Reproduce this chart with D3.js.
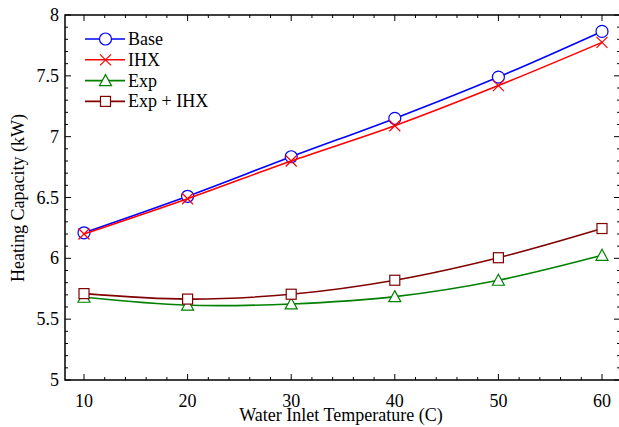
<!DOCTYPE html>
<html>
<head>
<meta charset="utf-8">
<script src="https://cdn.jsdelivr.net/npm/d3@7"></script>
<style>
  body { margin: 0; background: #fff; }
</style>
</head>
<body>
<svg id="chart" width="619" height="427" font-family="'Liberation Serif', 'DejaVu Serif'"></svg>
<script>
const temps = [10, 20, 30, 40, 50, 60];
const baseCap = [6.21, 6.51, 6.835, 7.15, 7.49, 7.865];
const ihxCap = [6.2, 6.49, 6.8, 7.09, 7.42, 7.775];
const expCap = [5.68, 5.615, 5.625, 5.685, 5.82, 6.025];
const expIhxCap = [5.71, 5.665, 5.705, 5.82, 6.005, 6.245];
const xTicks = [10, 20, 30, 40, 50, 60];
const yTicks = [5, 5.5, 6, 6.5, 7, 7.5, 8];

const series = [
  {name: "Base", values: baseCap, color: "#0000ff", marker: "circle"},
  {name: "IHX", values: ihxCap, color: "#ff0000", marker: "cross"},
  {name: "Exp", values: expCap, color: "#008000", marker: "triangle"},
  {name: "Exp + IHX", values: expIhxCap, color: "#800000", marker: "square"}
];

const plotLeft = 65, plotRight = 620, plotTop = 15, plotBottom = 380;
const svg = d3.select("#chart");

const x = d3.scaleLinear().domain([10, 60]).range([84, 602]);
const y = d3.scaleLinear().domain([5, 8]).range([plotBottom, plotTop]);

// frame
svg.append("path")
  .attr("d", `M${plotLeft},${plotTop}H${plotRight}V${plotBottom}H${plotLeft}Z`)
  .attr("fill", "none").attr("stroke", "#000").attr("stroke-width", 1.5);

// inward ticks on all four sides
const xMinor = d3.range(8, 63, 2).filter(v => x(v) > plotLeft + 1 && x(v) < plotRight - 1);
const yMinor = d3.range(50, 81, 1).map(v => v / 10);
const tickG = svg.append("g").attr("stroke", "#000").attr("stroke-width", 1);
xMinor.forEach(v => {
  const len = xTicks.includes(v) ? 6 : 3;
  tickG.append("line").attr("x1", x(v)).attr("x2", x(v)).attr("y1", plotBottom).attr("y2", plotBottom - len);
  tickG.append("line").attr("x1", x(v)).attr("x2", x(v)).attr("y1", plotTop).attr("y2", plotTop + len);
});
yMinor.forEach(v => {
  const len = Math.abs(v * 2 - Math.round(v * 2)) < 1e-6 ? 6 : 3;
  tickG.append("line").attr("x1", plotLeft).attr("x2", plotLeft + len).attr("y1", y(v)).attr("y2", y(v));
  tickG.append("line").attr("x1", plotRight).attr("x2", plotRight - len).attr("y1", y(v)).attr("y2", y(v));
});

// tick labels
svg.append("g").selectAll("text").data(xTicks).join("text")
  .attr("x", d => x(d)).attr("y", 407)
  .attr("text-anchor", "middle").attr("font-size", 18)
  .text(d => d);
svg.append("g").selectAll("text").data(yTicks).join("text")
  .attr("x", 59).attr("y", d => y(d) + 6)
  .attr("text-anchor", "end").attr("font-size", 18)
  .text(d => d);

// axis titles
svg.append("text").attr("x", 341).attr("y", 421)
  .attr("text-anchor", "middle").attr("font-size", 18)
  .text("Water Inlet Temperature (C)");
svg.append("text")
  .attr("transform", "translate(24,198) rotate(-90)")
  .attr("text-anchor", "middle").attr("font-size", 18)
  .text("Heating Capacity (kW)");

const line = d3.line()
  .x((d, i) => x(temps[i]))
  .y(d => y(d))
  .curve(d3.curveCatmullRom);

function drawMarker(g, type, color, cx, cy) {
  if (type === "circle") {
    g.append("circle").attr("cx", cx).attr("cy", cy).attr("r", 6)
      .attr("fill", "#fff").attr("stroke", color).attr("stroke-width", 1.2);
  } else if (type === "cross") {
    const s = 5.5;
    g.append("path")
      .attr("d", `M${cx - s},${cy - s}L${cx + s},${cy + s}M${cx - s},${cy + s}L${cx + s},${cy - s}`)
      .attr("stroke", color).attr("stroke-width", 1.2).attr("fill", "none");
  } else if (type === "triangle") {
    g.append("path")
      .attr("d", `M${cx},${cy - 6}L${cx + 6},${cy + 5}L${cx - 6},${cy + 5}Z`)
      .attr("fill", "#fff").attr("stroke", color).attr("stroke-width", 1.2);
  } else {
    g.append("rect").attr("x", cx - 5).attr("y", cy - 5).attr("width", 10).attr("height", 10)
      .attr("fill", "#fff").attr("stroke", color).attr("stroke-width", 1.2);
  }
}

series.forEach(s => {
  const g = svg.append("g");
  g.append("path").datum(s.values).attr("d", line)
    .attr("fill", "none").attr("stroke", s.color).attr("stroke-width", 1.6);
  s.values.forEach((v, i) => drawMarker(g, s.marker, s.color, x(temps[i]), y(v)));
});

// legend
series.forEach((s, i) => {
  const ly = 39 + i * 20.8;
  const g = svg.append("g");
  g.append("line").attr("x1", 85).attr("x2", 125).attr("y1", ly).attr("y2", ly)
    .attr("stroke", s.color).attr("stroke-width", 1.6);
  drawMarker(g, s.marker, s.color, 105.5, ly);
  g.append("text").attr("x", 128).attr("y", ly + 6).attr("font-size", 18).text(s.name);
});
</script>
</body>
</html>
